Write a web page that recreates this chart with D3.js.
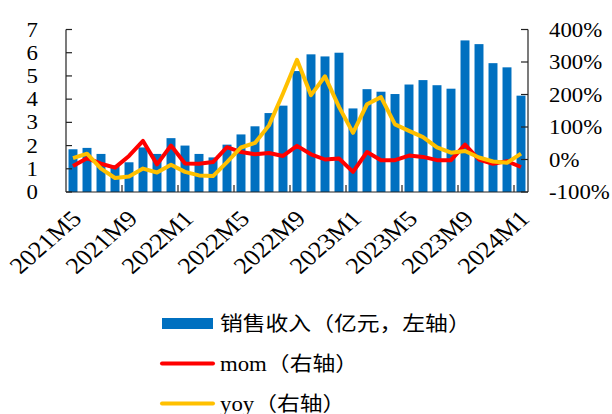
<!DOCTYPE html>
<html>
<head>
<meta charset="utf-8">
<script src="https://cdn.jsdelivr.net/npm/d3@7/dist/d3.min.js"></script>
<style>
  body { margin: 0; background: #fff; }
  text { font-family: "Liberation Serif", "Times New Roman", serif; fill: #000; }
  .cn { font-family: "Noto Sans CJK SC", sans-serif; }
</style>
</head>
<body>
<svg id="chart" width="612" height="414"></svg>
<script>
// 月份
const months = [
  "2021M5","2021M6","2021M7","2021M8","2021M9","2021M10","2021M11","2021M12",
  "2022M1","2022M2","2022M3","2022M4","2022M5","2022M6","2022M7","2022M8",
  "2022M9","2022M10","2022M11","2022M12","2023M1","2023M2","2023M3","2023M4",
  "2023M5","2023M6","2023M7","2023M8","2023M9","2023M10","2023M11","2023M12",
  "2024M1"
];
// 销售收入（亿元）
const sales = [
  1.84, 1.90, 1.64, 1.15, 1.28, 1.92, 1.64, 2.32,
  2.00, 1.64, 1.49, 2.04, 2.48, 2.83, 3.40, 3.72,
  5.21, 5.93, 5.84, 6.00, 3.60, 4.43, 4.32, 4.22,
  4.63, 4.82, 4.60, 4.45, 6.53, 6.37, 5.55, 5.37,
  4.15
];
// 环比 %
const mom = [
  -20, 4, -13, -25, 11, 57, -15, 43,
  -12, -13, -8, 38, 23, 16, 20, 11,
  42, 16, 0, 3, -38, 23, -2, -2,
  12, 8, -2, -2, 46, 0, -13, -5,
  -23
];
// 同比 %
const yoy = [
  4, 18, -28, -57, -52, -28, -40, -16,
  -38, -49, -51, -8, 37, 51, 105, 203,
  307, 198, 256, 162, 82, 170, 192, 108,
  88, 69, 37, 21, 26, 6, -6, -10,
  18
];
const leftTicks = [0, 1, 2, 3, 4, 5, 6, 7];
const rightTicks = [-100, 0, 100, 200, 300, 400];
const legendItems = [
  {name: "销售收入（亿元，左轴）", type: "bar", color: "#0070C0"},
  {name: "mom（右轴）", type: "line", color: "#FF0000"},
  {name: "yoy（右轴）", type: "line", color: "#FFC000"}
];

const svg = d3.select("#chart");
const pLeft = 66, pRight = 528, pTop = 29.5, pBottom = 192;
const sx = 1.14; // 原图横向拉伸

const x = d3.scaleBand().domain(months).range([pLeft, pRight])
  .paddingInner(0.36).paddingOuter(0.18);
const yL = d3.scaleLinear().domain([0, 7]).range([pBottom, pTop]);
const yR = d3.scaleLinear().domain([-100, 400]).range([pBottom, pTop]);
const cx = d => x(d) + x.bandwidth() / 2;

// 柱子
svg.append("g").selectAll("rect")
  .data(sales)
  .enter()
  .append("rect")
  .attr("x", (d, i) => x(months[i]))
  .attr("width", x.bandwidth())
  .attr("y", d => yL(d))
  .attr("height", d => yL(0) - yL(d))
  .attr("fill", "#0070C0");

// 折线
const line = d3.line()
  .x((d, i) => cx(months[i]))
  .y(d => yR(d));
[[mom, "#FF0000"], [yoy, "#FFC000"]].forEach(s => {
  svg.append("path")
    .datum(s[0])
    .attr("d", line)
    .attr("fill", "none")
    .attr("stroke", s[1])
    .attr("stroke-width", 4)
    .attr("stroke-linejoin", "round");
});

// 坐标轴
const axisColor = "#222";
const ax = svg.append("g").attr("stroke", axisColor).attr("stroke-width", 1.2);
ax.append("line").attr("x1", pLeft).attr("x2", pLeft).attr("y1", pTop).attr("y2", pBottom);
ax.append("line").attr("x1", pRight).attr("x2", pRight).attr("y1", pTop).attr("y2", pBottom);
ax.append("line").attr("x1", pLeft).attr("x2", pRight).attr("y1", pBottom).attr("y2", pBottom);
ax.selectAll(".lt").data(leftTicks).enter().append("line")
  .attr("x1", pLeft).attr("x2", pLeft + 6)
  .attr("y1", d => yL(d)).attr("y2", d => yL(d));
ax.selectAll(".rt").data(rightTicks).enter().append("line")
  .attr("x1", pRight - 7).attr("x2", pRight)
  .attr("y1", d => yR(d)).attr("y2", d => yR(d));
const gap = x.step() * x.paddingInner() / 2;
ax.selectAll(".bt").data(months.filter((m, i) => i > 0 && i % 4 === 0)).enter().append("line")
  .attr("x1", d => x(d) - gap).attr("x2", d => x(d) - gap)
  .attr("y1", pBottom).attr("y2", pBottom - 7);

// 刻度文字
svg.append("g").selectAll("text")
  .data(leftTicks)
  .enter()
  .append("text")
  .attr("transform", d => "translate(38," + yL(d) + ") scale(" + sx + ",1)")
  .attr("text-anchor", "end")
  .attr("dy", "0.35em")
  .style("font-size", "20px")
  .text(d => d);

svg.append("g").selectAll("text")
  .data(rightTicks)
  .enter()
  .append("text")
  .attr("transform", d => "translate(549," + yR(d) + ") scale(" + sx + ",1)")
  .attr("dy", "0.35em")
  .style("font-size", "20px")
  .text(d => d + "%");

svg.append("g").selectAll("text")
  .data(months.filter((m, i) => i % 4 === 0))
  .enter()
  .append("text")
  .attr("transform", d => "translate(" + (cx(d) + 10) + ",220) scale(" + sx + ",1) rotate(-45)")
  .attr("text-anchor", "end")
  .style("font-size", "23px")
  .text(d => d);

// 图例
const lg = svg.append("g").selectAll("g")
  .data(legendItems)
  .enter()
  .append("g")
  .attr("transform", (d, i) => "translate(162," + (323.5 + i * 40) + ")");
lg.filter(d => d.type === "bar").append("rect")
  .attr("x", 0).attr("y", -5.5).attr("width", 51).attr("height", 11)
  .attr("fill", d => d.color);
lg.filter(d => d.type === "line").append("line")
  .attr("x1", 0).attr("x2", 51).attr("y1", 0).attr("y2", 0)
  .attr("stroke", d => d.color).attr("stroke-width", 4)
  .attr("stroke-linecap", "round");
lg.append("text")
  .attr("transform", "translate(58,0) scale(" + sx + ",1)")
  .attr("dy", "0.38em")
  .style("font-size", "20px")
  .each(function(d) {
    const t = d3.select(this);
    const k = d.name.indexOf("（");
    if (k > 0 && /^[a-z]/.test(d.name)) {
      t.append("tspan").text(d.name.slice(0, k));
      t.append("tspan").attr("class", "cn").text(d.name.slice(k));
    } else {
      t.attr("class", "cn").text(d.name);
    }
  });
</script>
</body>
</html>
